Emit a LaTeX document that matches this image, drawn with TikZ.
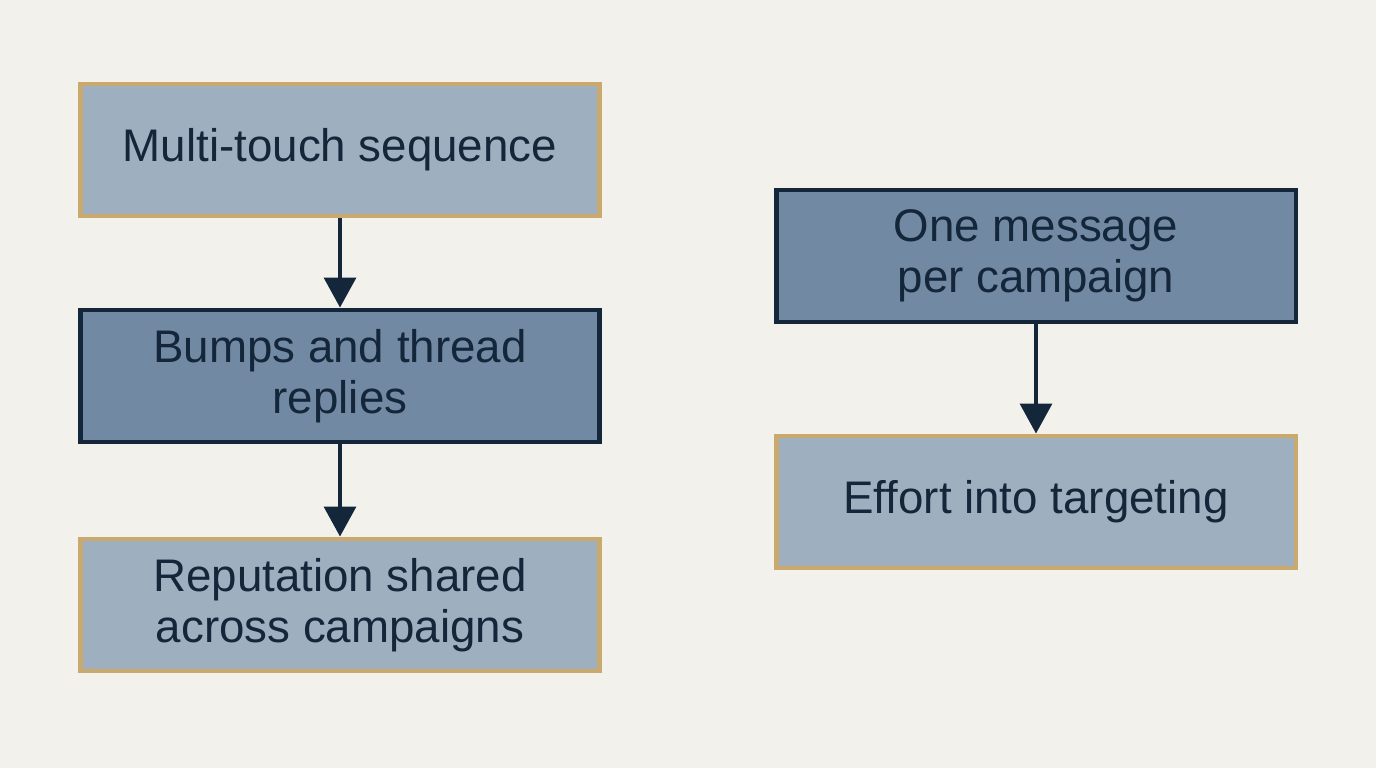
\documentclass[tikz,border=0pt]{standalone}
\usepackage{fontspec}
\setmainfont{Liberation Sans}
\usetikzlibrary{arrows.meta}
\definecolor{bgcol}{HTML}{F3F1EC}
\definecolor{lightbox}{HTML}{9EAFC0}
\definecolor{darkbox}{HTML}{7189A2}
\definecolor{tanline}{HTML}{C9A96E}
\definecolor{navy}{HTML}{14263A}
\tikzset{
  box/.style={draw, line width=2.8pt, minimum width=10.4cm, minimum height=2.64cm,
    align=center, text=navy, font=\fontsize{26}{29}\selectfont},
  lightbox/.style={box, fill=lightbox, draw=tanline},
  darkbox/.style={box, fill=darkbox, draw=navy},
  flow/.style={-{Triangle[length=17pt,width=18pt]}, line width=2.3pt, draw=navy}
}
\begin{document}
\begin{tikzpicture}[x=0.02cm, y=-0.02cm]
    \fill[bgcol] (0,0) rectangle (1376,768);
    \useasboundingbox (0,0) rectangle (1376,768);
    % left column
    \node[lightbox] (multi) at (340,150) {Multi-touch sequence};
    \node[darkbox] (bumps) at (340,376) {Bumps and thread\\replies};
    \node[lightbox] (reput) at (340,605) {Reputation shared\\across campaigns};
    % right column
    \node[darkbox] (one) at (1036,256) {One message\\per campaign};
    \node[lightbox] (effort) at (1036,502) {Effort into targeting};
    % arrows
    \draw[flow] (multi) -- (bumps);
    \draw[flow] (bumps) -- (reput);
    \draw[flow] (one) -- (effort);
\end{tikzpicture}
\end{document}
